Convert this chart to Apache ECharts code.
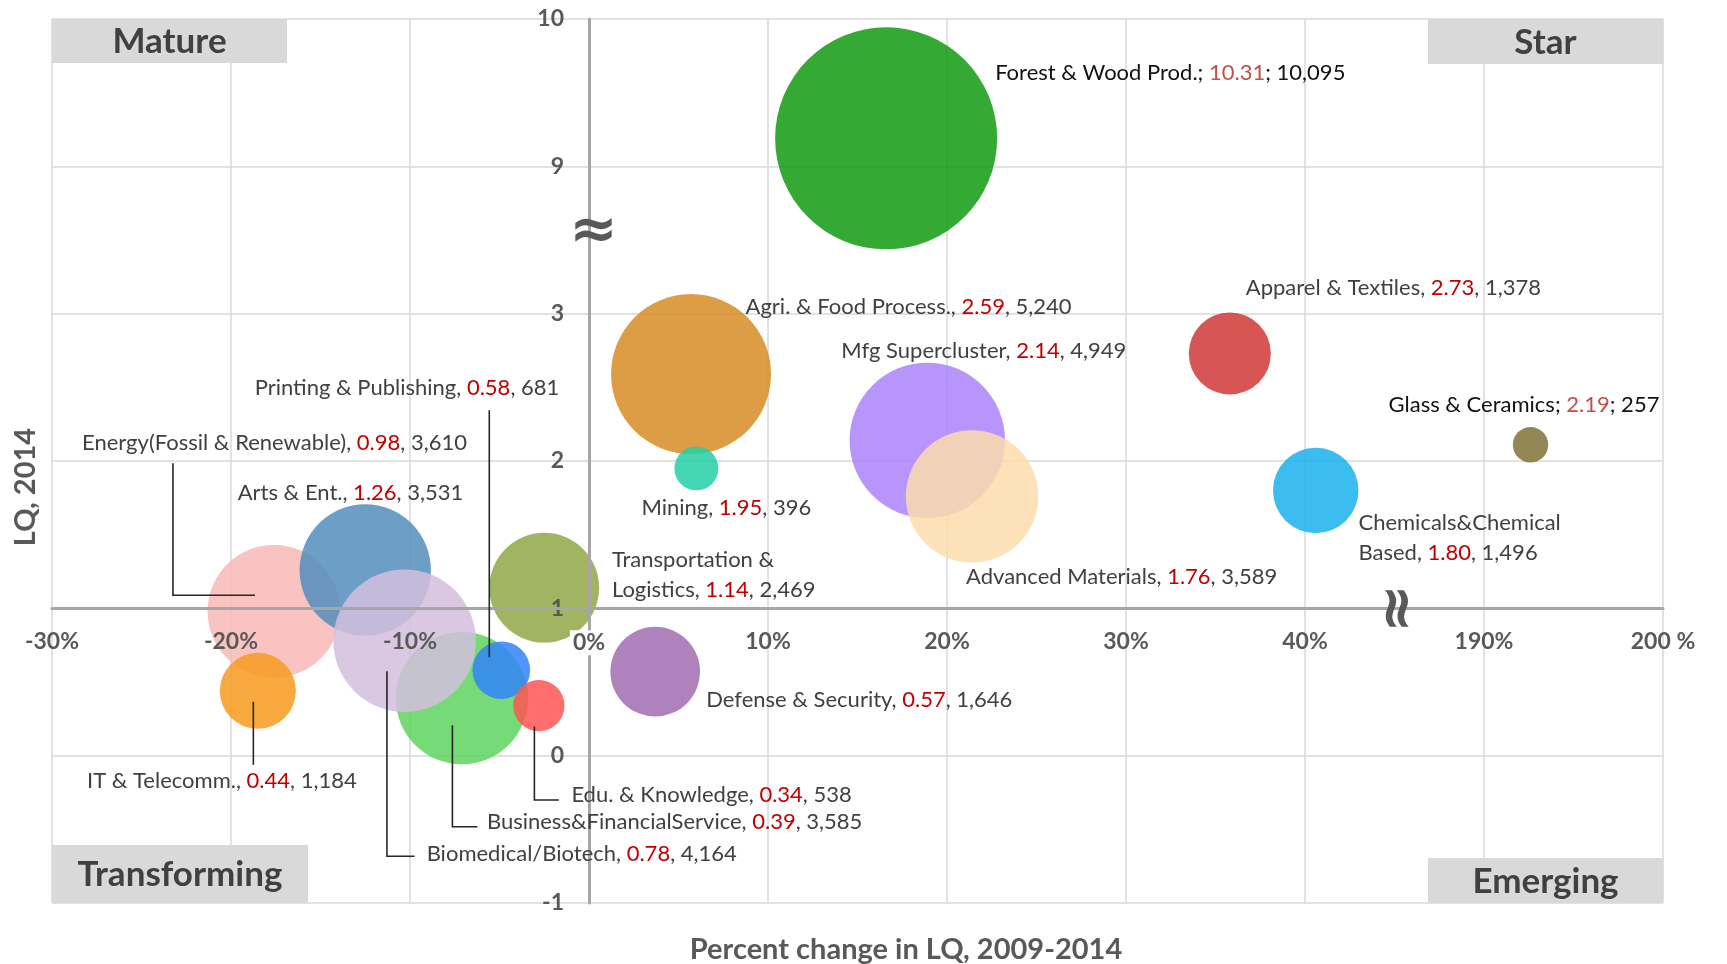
<!DOCTYPE html>
<html>
<head>
<meta charset="utf-8">
<script src="https://cdn.jsdelivr.net/npm/echarts@6/dist/echarts.min.js"></script>
<style>
html,body{margin:0;padding:0;background:#fff;}
#chart{width:1727px;height:964px;}
</style>
</head>
<body>
<div id="chart"></div>
<script>
// ---------------- DATA ----------------
const names = ['Energy(Fossil & Renewable)', 'IT & Telecomm.', 'Arts & Ent.', 'Business&FinancialService',
  'Biomedical/Biotech', 'Printing & Publishing', 'Edu. & Knowledge', 'Transportation & Logistics',
  'Defense & Security', 'Agri. & Food Process.', 'Mining', 'Mfg Supercluster', 'Advanced Materials',
  'Forest & Wood Prod.', 'Apparel & Textiles', 'Chemicals&Chemical Based', 'Glass & Ceramics'];
const pctChange = [-17.6, -18.5, -12.5, -7.1, -10.3, -4.9, -2.8, -2.5, 3.7, 5.7, 6.0, 18.9, 21.4, 16.6, 35.8, 40.6, 192.6];
const lqPlot = [0.98, 0.44, 1.26, 0.39, 0.78, 0.58, 0.34, 1.14, 0.57, 2.59, 1.95, 2.14, 1.76, 9.19, 2.73, 1.80, 2.11];
const lqLabel = ['0.98', '0.44', '1.26', '0.39', '0.78', '0.58', '0.34', '1.14', '0.57', '2.59', '1.95', '2.14', '1.76', '10.31', '2.73', '1.80', '2.19'];
const employment = [3610, 1184, 3531, 3585, 4164, 681, 538, 2469, 1646, 5240, 396, 4949, 3589, 10095, 1378, 1496, 257];
const xTickLabels = ['-30%', '-20%', '-10%', '0%', '10%', '20%', '30%', '40%', '190%', '200 %'];
const yTickLabels = ['-1', '0', '1', '2', '3', '9', '10'];
const quadrants = ['Mature', 'Star', 'Transforming', 'Emerging'];
const xTitle = 'Percent change in LQ, 2009-2014';
const yTitle = 'LQ, 2014';

// ---------------- STYLE / LAYOUT ----------------
const colors = ['#F7B8B5', '#F79B20', '#548DBC', '#5ED35E', '#D3BEDD', '#3184F9', '#FF5454', '#8FA746',
  '#A16CB3', '#D68C25', '#25D0A7', '#AA83F9', '#FDDCAD', '#109B10', '#D03737', '#1AB2ED', '#7E7237'];
const FONT = 'Lato';
const GRID = {left: 52, top: 19, width: 1611, height: 884};
const X_MIN = -30, X_MAX = 60, Y_MIN = -2, Y_MAX = 4;
// label placement relative to bubble centre (pixels)
const layout = [
  {dx: 193, dy: -168, align: 'right', lead: [[-19, -16], [-101, -16], [-101, -148]]},
  {dx: -36, dy: 90, align: 'center', lead: [[-4.5, 11], [-4.5, 74]]},
  {dx: 98, dy: -77, align: 'right'},
  {dx: 25, dy: 124, align: 'left', lead: [[-9.5, 27], [-9.5, 128.5], [15.5, 128.5]]},
  {dx: 22, dy: 213.5, align: 'left', lead: [[-17.7, 30.5], [-17.7, 215.5], [10, 215.5]]},
  {dx: 58, dy: -282, align: 'right', lead: [[-12, -13], [-12, -260]]},
  {dx: 32.5, dy: 89.5, align: 'left', lead: [[-4.5, 21], [-4.5, 94.5], [20, 94.5]]},
  {dx: 67.7, dy: -12.6, align: 'left', wrap: true},
  {dx: 51, dy: 28.4, align: 'left'},
  {dx: 54.5, dy: -67, align: 'left'},
  {dx: -55, dy: 39.5, align: 'left'},
  {dx: -86, dy: -89, align: 'left'},
  {dx: -6, dy: 80.3, align: 'left'},
  {dx: 109, dy: -65, align: 'left', semi: true},
  {dx: 16, dy: -65.6, align: 'left'},
  {dx: 42.7, dy: 47, align: 'left', wrap: true},
  {dx: -142, dy: -40, align: 'left', semi: true}
];

// broken-axis transforms (x: 40%..190% removed, y: 3..9 removed)
const tx = x => (x < 100 ? x : x - 140);
const ty = y => (y < 6 ? y - 1 : y - 6);

const seriesData = names.map((n, i) => ({
  name: n,
  value: [tx(pctChange[i]), ty(lqPlot[i]), employment[i]],
  itemStyle: {color: colors[i], opacity: 0.85}
}));

const axisLabelStyle = {
  color: '#595959', fontFamily: FONT, fontWeight: 'bold', fontSize: 23,
  rich: {w: {color: '#595959', fontFamily: FONT, fontWeight: 'bold', fontSize: 23, backgroundColor: '#fff', padding: [1, 3]}}
};
// shift labelled axes so they cross at x=0 / y=1 (transformed 0)
const xAxisOffset = -GRID.height * (0 - Y_MIN) / (Y_MAX - Y_MIN);
const yAxisOffset = -GRID.width * (0 - X_MIN) / (X_MAX - X_MIN);

const option = {
  animation: false,
  backgroundColor: '#fff',
  grid: {left: GRID.left, top: GRID.top, width: GRID.width, height: GRID.height,
    containLabel: false, outerBoundsMode: 'none'},
  xAxis: [
    {type: 'value', min: X_MIN, max: X_MAX, interval: 10, z: 20, position: 'bottom', offset: xAxisOffset,
      axisLine: {show: true, onZero: false, lineStyle: {color: '#a6a6a6', width: 3}},
      axisTick: {show: false}, splitLine: {show: false},
      axisLabel: Object.assign({margin: 22, formatter: v => {
        const s = xTickLabels[Math.round((v - X_MIN) / 10)] || '';
        return v === 0 ? '{w|' + s + '}' : s;
      }}, axisLabelStyle)},
    {type: 'value', min: X_MIN, max: X_MAX, interval: 10, z: 0, position: 'top',
      axisLine: {show: false}, axisTick: {show: false}, axisLabel: {show: false},
      splitLine: {show: true, lineStyle: {color: '#d9d9d9', width: 1.5}}}
  ],
  yAxis: [
    {type: 'value', min: Y_MIN, max: Y_MAX, interval: 1, z: 19, position: 'left', offset: yAxisOffset,
      axisLine: {show: true, onZero: false, lineStyle: {color: '#a6a6a6', width: 3}},
      axisTick: {show: false}, splitLine: {show: false},
      axisLabel: Object.assign({margin: 25, formatter: v => yTickLabels[Math.round(v - Y_MIN)] || ''}, axisLabelStyle)},
    {type: 'value', min: Y_MIN, max: Y_MAX, interval: 1, z: 0, position: 'right',
      axisLine: {show: false}, axisTick: {show: false}, axisLabel: {show: false},
      splitLine: {show: true, lineStyle: {color: '#d9d9d9', width: 1.5}}}
  ],
  series: [{
    type: 'scatter', xAxisIndex: 0, yAxisIndex: 0, z: 5,
    symbol: 'circle',
    symbolSize: val => Math.sqrt(val[2]) * 2.21,
    data: seriesData,
    emphasis: {disabled: true}
  }]
};

const chart = echarts.init(document.getElementById('chart'), null, {renderer: 'canvas'});
chart.setOption(option);

const toPx = (x, y) => chart.convertToPixel({xAxisIndex: 0, yAxisIndex: 0}, [x, y]);
const fmtNum = n => n.toLocaleString('en-US');
const graphics = [];

// quadrant boxes
const gR = GRID.left + GRID.width, gB = GRID.top + GRID.height;
const boxes = [
  {x: GRID.left, y: GRID.top, w: 235, h: 44},
  {x: gR - 235, y: GRID.top, w: 235, h: 45},
  {x: GRID.left, y: gB - 58, w: 256, h: 58},
  {x: gR - 235, y: gB - 45, w: 235, h: 45}
];
boxes.forEach((b, i) => {
  graphics.push({type: 'rect', z: 30, shape: {x: b.x, y: b.y, width: b.w, height: b.h}, style: {fill: '#d9d9d9'}});
  graphics.push({type: 'text', z: 31, x: b.x + b.w / 2, y: b.y + b.h / 2 + 1,
    style: {text: quadrants[i], fill: '#404040', font: 'bold 35px ' + FONT, align: 'center', verticalAlign: 'middle'}});
});

// axis titles
graphics.push({type: 'text', z: 30, x: 906, y: 950,
  style: {text: xTitle, fill: '#595959', font: 'bold 29px ' + FONT, align: 'center', verticalAlign: 'middle'}});
graphics.push({type: 'text', z: 30, x: 26, y: 487, rotation: Math.PI / 2,
  style: {text: yTitle, fill: '#595959', font: 'bold 29px ' + FONT, align: 'center', verticalAlign: 'middle'}});

// axis break marks
const yb = toPx(0.25, 2.55);
graphics.push({type: 'text', z: 40, x: yb[0], y: yb[1],
  style: {text: '\u2248', fill: '#595959', font: 'bold 58px "DejaVu Sans"', align: 'center', verticalAlign: 'middle'}});
const xb = toPx(45.3, 0);
graphics.push({type: 'text', z: 40, x: xb[0], y: xb[1], rotation: Math.PI / 2,
  style: {text: '\u2248', fill: '#595959', font: 'bold 58px "DejaVu Sans"', align: 'center', verticalAlign: 'middle'}});

// bubble labels and leader lines
names.forEach((n, i) => {
  const L = layout[i];
  const c = toPx(seriesData[i].value[0], seriesData[i].value[1]);
  let nm = n;
  if (L.wrap) { const k = nm.lastIndexOf(' '); nm = nm.slice(0, k) + '\n' + nm.slice(k + 1); }
  const sep = L.semi ? '; ' : ', ';
  const txt = '{n|' + nm + sep + '}{v|' + lqLabel[i] + '}{n|' + sep + fmtNum(employment[i]) + '}';
  graphics.push({type: 'text', z: 50, x: c[0] + L.dx, y: c[1] + L.dy,
    style: {text: txt, align: L.align, verticalAlign: 'middle', font: '22px ' + FONT, lineHeight: 30,
      rich: {
        n: {fill: L.semi ? '#111111' : '#404040', fontSize: 22, fontFamily: FONT, lineHeight: 30},
        v: {fill: L.semi ? '#c0504d' : '#c00000', fontSize: 22, fontFamily: FONT, lineHeight: 30}
      }}});
  if (L.lead) {
    graphics.push({type: 'polyline', z: 45,
      shape: {points: L.lead.map(p => [c[0] + p[0], c[1] + p[1]])},
      style: {stroke: '#262626', lineWidth: 1.6, fill: null}});
  }
});

chart.setOption({graphic: {elements: graphics}});
</script>
</body>
</html>
